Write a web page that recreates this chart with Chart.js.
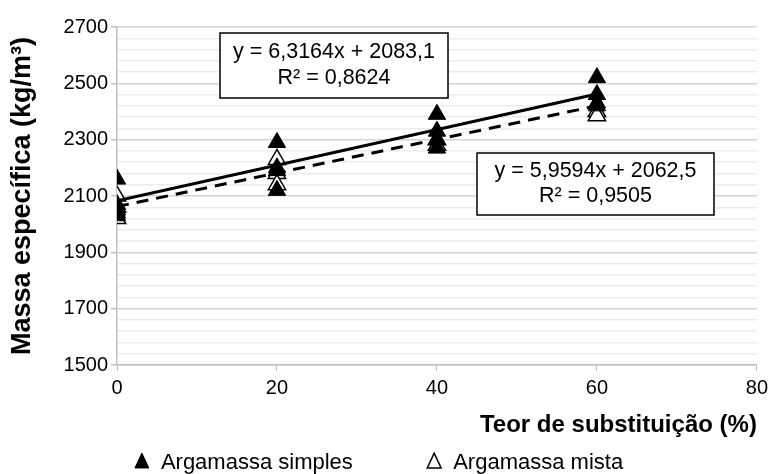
<!DOCTYPE html>
<html>
<head>
<meta charset="utf-8">
<script src="https://cdn.jsdelivr.net/npm/chart.js@4/dist/chart.umd.min.js"></script>
<style>
  html, body { margin: 0; padding: 0; background: #fff; }
  #wrap { width: 773px; height: 474px; }
</style>
</head>
<body>
<div id="wrap"><canvas id="massChart" width="773" height="474"></canvas></div>
<script>
// substitution content (%) and measured density (kg/m3)
const simplesX = [0, 0, 0, 0, 0, 20, 20, 20, 20, 40, 40, 40, 40, 60, 60, 60, 60];
const simplesY = [2160, 2070, 2050, 2040, 2030, 2290, 2200, 2190, 2120, 2390, 2330, 2300, 2270, 2520, 2460, 2430, 2420];
const mistaX = [0, 0, 0, 20, 20, 20, 40, 40, 60, 60];
const mistaY = [2100, 2060, 2020, 2230, 2180, 2140, 2300, 2280, 2400, 2385];

// trendline equations as shown in the figure
const trendSimples = { a: 6.3164, b: 2083.1, label: ['y = 6,3164x + 2083,1', 'R² = 0,8624'] };
const trendMista = { a: 5.9594, b: 2062.5, label: ['y = 5,9594x + 2062,5', 'R² = 0,9505'] };
const trendRange = [0, 60];

const toPoints = (xs, ys) => xs.map((x, i) => ({ x: x, y: ys[i] }));
const trendPoints = (t) => trendRange.map((x) => ({ x: x, y: t.a * x + t.b }));

const FONT = '"Liberation Sans", Arial, sans-serif';

// draws the two equation boxes
const equationBoxes = {
    id: 'equationBoxes',
    afterDatasetsDraw(chart) {
        const ctx = chart.ctx;
        const boxes = [
            { t: trendSimples, x: 220, y: 33, w: 228, h: 65 },
            { t: trendMista, x: 477, y: 153, w: 237, h: 62 },
        ];
        ctx.save();
        boxes.forEach((b) => {
            ctx.fillStyle = '#fff';
            ctx.fillRect(b.x, b.y, b.w, b.h);
            ctx.strokeStyle = '#000';
            ctx.lineWidth = 1.5;
            ctx.strokeRect(b.x, b.y, b.w, b.h);
            ctx.fillStyle = '#000';
            ctx.font = '21.5px ' + FONT;
            ctx.textAlign = 'center';
            ctx.textBaseline = 'middle';
            ctx.fillText(b.t.label[0], b.x + b.w / 2, b.y + b.h * 0.29);
            ctx.fillText(b.t.label[1], b.x + b.w / 2, b.y + b.h * 0.7);
        });
        ctx.restore();
    },
};

// trailing spaces set the gap between the two legend entries
const legendSpacing = ['            ', ''];

const ctx = document.getElementById('massChart').getContext('2d');
new Chart(ctx, {
    type: 'scatter',
    data: {
        datasets: [
            {
                label: 'Argamassa simples',
                data: toPoints(simplesX, simplesY),
                pointStyle: 'triangle',
                pointRadius: 10,
                backgroundColor: '#000',
                borderColor: '#000',
                borderWidth: 1,
                order: 2,
            },
            {
                label: 'Argamassa mista',
                data: toPoints(mistaX, mistaY),
                pointStyle: 'triangle',
                pointRadius: 10,
                backgroundColor: '#fff',
                borderColor: '#000',
                borderWidth: 1.5,
                order: 3,
            },
            {
                label: 'trend simples',
                type: 'line',
                data: trendPoints(trendSimples),
                borderColor: '#000',
                borderWidth: 3,
                pointRadius: 0,
                order: 1,
            },
            {
                label: 'trend mista',
                type: 'line',
                data: trendPoints(trendMista),
                borderColor: '#000',
                borderWidth: 3,
                borderDash: [12, 8],
                pointRadius: 0,
                order: 1,
            },
        ],
    },
    options: {
        responsive: false,
        animation: false,
        layout: { padding: { top: 27, right: 16, left: 0, bottom: -10 } },
        scales: {
            x: {
                type: 'linear',
                min: 0,
                max: 80,
                afterFit(scale) { scale.height = 87; },
                ticks: { stepSize: 20, color: '#000', font: { family: FONT, size: 20 }, padding: 5 },
                grid: { drawOnChartArea: false, color: '#bfbfbf', tickLength: 6 },
                border: { color: '#bfbfbf', width: 1.5 },
                title: {
                    display: true,
                    text: 'Teor de substituição (%)',
                    align: 'end',
                    color: '#000',
                    font: { family: FONT, size: 24, weight: 'bold' },
                    padding: { top: 0, bottom: 12 },
                },
            },
            y: {
                min: 1500,
                max: 2700,
                afterFit(scale) { scale.width = 117; },
                ticks: {
                    stepSize: 40,
                    autoSkip: false,
                    color: '#000',
                    font: { family: FONT, size: 20 },
                    padding: 3,
                    callback: (v) => (v % 200 === 100 ? v : ''),
                },
                grid: {
                    color: (c) => (c.tick && c.tick.value % 200 === 100 ? '#d4d4d4' : '#ececec'),
                    tickColor: (c) => (c.tick && c.tick.value % 200 === 100 ? '#bfbfbf' : 'rgba(0,0,0,0)'),
                    tickLength: 6,
                    lineWidth: 1.5,
                },
                border: { color: '#bfbfbf', width: 1.5 },
                title: {
                    display: true,
                    text: 'Massa específica (kg/m³)',
                    color: '#000',
                    font: { family: FONT, size: 27, weight: 'bold' },
                    padding: { top: 6, bottom: 0 },
                },
            },
        },
        plugins: {
            tooltip: { enabled: false },
            legend: {
                position: 'bottom',
                labels: {
                    filter: (item) => item.datasetIndex < 2,
                    generateLabels: (chart) =>
                        Chart.defaults.plugins.legend.labels.generateLabels(chart).map((item) => {
                            if (item.datasetIndex < 2) item.text = item.text + legendSpacing[item.datasetIndex];
                            return item;
                        }),
                    usePointStyle: true,
                    pointStyleWidth: 16,
                    boxHeight: 14,
                    color: '#000',
                    font: { family: FONT, size: 22 },
                    padding: 0,
                },
            },
        },
    },
    plugins: [equationBoxes],
});
</script>
</body>
</html>
